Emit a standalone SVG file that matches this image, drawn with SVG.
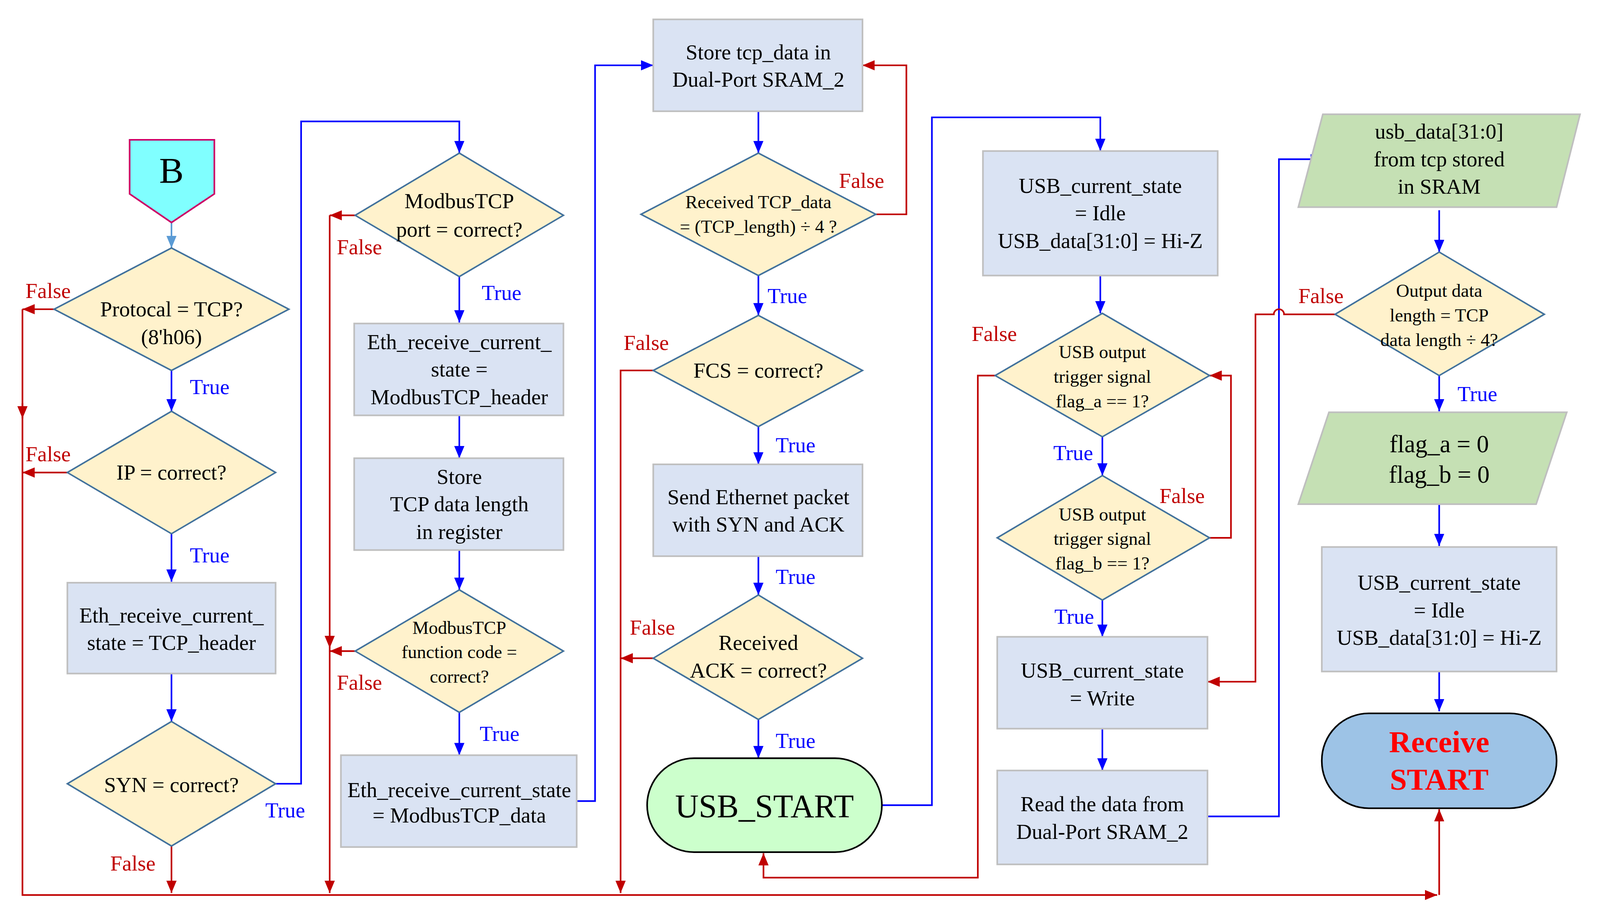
<svg xmlns="http://www.w3.org/2000/svg" width="4100" height="2330" viewBox="0 0 4100 2330">
<style>
.bx{fill:#DAE3F3;stroke:#BFBFBF;stroke-width:1.6}
.dm{fill:#FFF2CC;stroke:#41719C;stroke-width:1.5}
.pg{fill:#C5E0B4;stroke:#BFBFBF;stroke-width:1.6}
text{font-family:"Liberation Serif","Times New Roman",serif;fill:#000;text-anchor:middle}
.t{font-size:21px}
.s{font-size:18px}
.tr{fill:#0000FF;font-size:21px;text-anchor:start}
.fl{fill:#C00000;font-size:21px;text-anchor:start}
.b{fill:none;stroke:#0000FF;stroke-width:1.6}
.r{fill:none;stroke:#C00000;stroke-width:1.6}
</style>
<defs>
<marker id="ab" viewBox="0 0 12 10" refX="12" refY="5" markerWidth="12" markerHeight="10" markerUnits="userSpaceOnUse" orient="auto"><path d="M0,0 L12,5 L0,10 z" fill="#0000FF"/></marker>
<marker id="ar" viewBox="0 0 12 10" refX="12" refY="5" markerWidth="12" markerHeight="10" markerUnits="userSpaceOnUse" orient="auto"><path d="M0,0 L12,5 L0,10 z" fill="#C00000"/></marker>
<marker id="al" viewBox="0 0 12 10" refX="12" refY="5" markerWidth="12" markerHeight="10" markerUnits="userSpaceOnUse" orient="auto"><path d="M0,0 L12,5 L0,10 z" fill="#5B9BD5"/></marker>
</defs>
<rect width="4100" height="2330" fill="#fff"/>
<g transform="scale(2.613)">
<g id="connectors">
<path d="M168,218 V243" fill="none" stroke="#5B9BD5" stroke-width="1.6" marker-end="url(#al)"/>
<path class="b" d="M168,363 V403" marker-end="url(#ab)"/>
<path class="b" d="M168,523 V570" marker-end="url(#ab)"/>
<path class="b" d="M168,660 V707" marker-end="url(#ab)"/>
<path class="b" d="M270,768 H295 V119 H450 V150" marker-end="url(#ab)"/>
<path class="r" d="M168,829 V875" marker-end="url(#ar)"/>
<path class="r" d="M53,303 H22" marker-end="url(#ar)"/>
<path class="r" d="M66,463 H22" marker-end="url(#ar)"/>
<path class="r" d="M22,303 V877 H1408" marker-end="url(#ar)"/>
<path class="r" d="M22,395 V410" marker-end="url(#ar)"/>
<path class="r" d="M1410,877 V793" marker-end="url(#ar)"/>
<path class="b" d="M450,271 V316" marker-end="url(#ab)"/>
<path class="b" d="M450,407 V449" marker-end="url(#ab)"/>
<path class="b" d="M450,539 V578" marker-end="url(#ab)"/>
<path class="b" d="M450,698 V740" marker-end="url(#ab)"/>
<path class="r" d="M348,211 H323" marker-end="url(#ar)"/>
<path class="r" d="M323,211 V875" marker-end="url(#ar)"/>
<path class="r" d="M348,638 H323" marker-end="url(#ar)"/>
<path class="r" d="M323,620 V635" marker-end="url(#ar)"/>
<path class="b" d="M565,785 H583 V64 H640" marker-end="url(#ab)"/>
<path class="b" d="M743,109 V150" marker-end="url(#ab)"/>
<path class="r" d="M858,210 H888 V64 H845" marker-end="url(#ar)"/>
<path class="b" d="M743,270 V309" marker-end="url(#ab)"/>
<path class="r" d="M640,363 H608 V875" marker-end="url(#ar)"/>
<path class="b" d="M743,418 V455" marker-end="url(#ab)"/>
<path class="b" d="M743,545 V583" marker-end="url(#ab)"/>
<path class="r" d="M640,645 H608" marker-end="url(#ar)"/>
<path class="b" d="M743,705 V743" marker-end="url(#ab)"/>
<path class="b" d="M864,789 H913 V115 H1078 V148" marker-end="url(#ab)"/>
<path class="b" d="M1078,270 V307" marker-end="url(#ab)"/>
<path class="r" d="M975,368 H958 V860 H748 V836" marker-end="url(#ar)"/>
<path class="b" d="M1080,428 V466" marker-end="url(#ab)"/>
<path class="r" d="M1185,527 H1206 V368 H1185" marker-end="url(#ar)"/>
<path class="b" d="M1080,588 V624" marker-end="url(#ab)"/>
<path class="b" d="M1080,714 V755" marker-end="url(#ab)"/>
<path class="b" d="M1183,800 H1253 V156 H1296" marker-end="url(#ab)"/>
<path class="b" d="M1410,206 V247" marker-end="url(#ab)"/>
<path class="r" d="M1308,308 H1258 A5,5 0 0 0 1248,308 H1230 V668 H1183" marker-end="url(#ar)"/>
<path class="b" d="M1410,368 V403" marker-end="url(#ab)"/>
<path class="b" d="M1410,494 V535" marker-end="url(#ab)"/>
<path class="b" d="M1410,658 V697" marker-end="url(#ab)"/>
<text class="tr" x="186" y="386">True</text>
<text class="tr" x="186" y="551">True</text>
<text class="tr" x="260" y="801">True</text>
<text class="fl" x="108" y="853">False</text>
<text class="fl" x="25" y="292">False</text>
<text class="fl" x="25" y="452">False</text>
<text class="fl" x="330" y="249">False</text>
<text class="tr" x="472" y="294">True</text>
<text class="fl" x="330" y="676">False</text>
<text class="tr" x="470" y="726">True</text>
<text class="fl" x="822" y="184">False</text>
<text class="tr" x="752" y="297">True</text>
<text class="fl" x="611" y="343">False</text>
<text class="tr" x="760" y="443">True</text>
<text class="tr" x="760" y="572">True</text>
<text class="fl" x="617" y="622">False</text>
<text class="tr" x="760" y="733">True</text>
<text class="fl" x="952" y="334">False</text>
<text class="tr" x="1032" y="451">True</text>
<text class="fl" x="1136" y="493">False</text>
<text class="tr" x="1033" y="611">True</text>
<text class="fl" x="1272" y="297">False</text>
<text class="tr" x="1428" y="393">True</text>
</g>
<g id="nB"><polygon points="127,137 210,137 210,190 168,218 127,190" fill="#80FFFF" stroke="#CC0066" stroke-width="1.6"/><text x="168" y="179" style="font-size:36px">B</text></g>
<g id="n1"><polygon class="dm" points="168,243 283,303 168,363 53,303"/><text class="t" x="168" y="310">Protocal = TCP?</text><text class="t" x="168" y="337">(8'h06)</text></g>
<g id="n2"><polygon class="dm" points="168,403 270,463 168,523 66,463"/><text class="t" x="168" y="470">IP = correct?</text></g>
<g id="n3"><rect class="bx" x="66" y="571" width="204" height="89"/><text class="t" x="168" y="610">Eth_receive_current_</text><text class="t" x="168" y="637">state = TCP_header</text></g>
<g id="n4"><polygon class="dm" points="168,707 270,768 168,829 66,768"/><text class="t" x="168" y="776">SYN = correct?</text></g>
<g id="n5"><polygon class="dm" points="450,150 552,211 450,271 348,211"/><text class="t" x="450" y="204">ModbusTCP</text><text class="t" x="450" y="232">port = correct?</text></g>
<g id="n6"><rect class="bx" x="347" y="317" width="205" height="90"/><text class="t" x="450" y="342">Eth_receive_current_</text><text class="t" x="450" y="369">state =</text><text class="t" x="450" y="396">ModbusTCP_header</text></g>
<g id="n7"><rect class="bx" x="347" y="449" width="205" height="90"/><text class="t" x="450" y="474">Store</text><text class="t" x="450" y="501">TCP data length</text><text class="t" x="450" y="528">in register</text></g>
<g id="n8"><polygon class="dm" points="450,578 552,638 450,698 348,638"/><text class="s" x="450" y="621">ModbusTCP</text><text class="s" x="450" y="645">function code =</text><text class="s" x="450" y="669">correct?</text></g>
<g id="n9"><rect class="bx" x="334" y="740" width="231" height="90"/><text class="t" x="450" y="781">Eth_receive_current_state</text><text class="t" x="450" y="806">= ModbusTCP_data</text></g>
<g id="n10"><rect class="bx" x="640" y="19" width="205" height="90"/><text class="t" x="743" y="58">Store tcp_data in</text><text class="t" x="743" y="85">Dual-Port SRAM_2</text></g>
<g id="n11"><polygon class="dm" points="743,150 858,210 743,270 628,210"/><text class="s" x="743" y="204">Received TCP_data</text><text class="s" x="743" y="228">= (TCP_length) ÷ 4 ?</text></g>
<g id="n12"><polygon class="dm" points="743,309 845,363 743,418 640,363"/><text class="t" x="743" y="370">FCS = correct?</text></g>
<g id="n13"><rect class="bx" x="640" y="455" width="205" height="90"/><text class="t" x="743" y="494">Send Ethernet packet</text><text class="t" x="743" y="521">with SYN and ACK</text></g>
<g id="n14"><polygon class="dm" points="743,583 845,645 743,705 640,645"/><text class="t" x="743" y="637">Received</text><text class="t" x="743" y="664">ACK = correct?</text></g>
<g id="n15"><rect x="634" y="743" width="230" height="92" rx="46" fill="#CCFFCC" stroke="#000" stroke-width="1.6"/><text x="749" y="801" style="font-size:32px">USB_START</text></g>
<g id="n16"><rect class="bx" x="963" y="148" width="230" height="122"/><text class="t" x="1078" y="189">USB_current_state</text><text class="t" x="1078" y="216">=  Idle</text><text class="t" x="1078" y="243">USB_data[31:0] = Hi-Z</text></g>
<g id="n17"><polygon class="dm" points="1080,307 1185,368 1080,428 975,368"/><text class="s" x="1080" y="351">USB output</text><text class="s" x="1080" y="375">trigger signal</text><text class="s" x="1080" y="399">flag_a == 1?</text></g>
<g id="n18"><polygon class="dm" points="1080,466 1185,527 1080,588 977,527"/><text class="s" x="1080" y="510">USB output</text><text class="s" x="1080" y="534">trigger signal</text><text class="s" x="1080" y="558">flag_b == 1?</text></g>
<g id="n19"><rect class="bx" x="977" y="624" width="206" height="90"/><text class="t" x="1080" y="664">USB_current_state</text><text class="t" x="1080" y="691">= Write</text></g>
<g id="n20"><rect class="bx" x="977" y="755" width="206" height="92"/><text class="t" x="1080" y="795">Read the data from</text><text class="t" x="1080" y="822">Dual-Port SRAM_2</text></g>
<g id="n21"><polygon class="pg" points="1296,112 1548,112 1525,203 1272,203"/><text class="t" x="1410" y="136">usb_data[31:0]</text><text class="t" x="1410" y="163">from tcp stored</text><text class="t" x="1410" y="190">in SRAM</text></g>
<g id="n22"><polygon class="dm" points="1410,247 1513,308 1410,368 1308,308"/><text class="s" x="1410" y="291">Output data</text><text class="s" x="1410" y="315">length = TCP</text><text class="s" x="1410" y="339">data length ÷ 4?</text></g>
<g id="n23"><polygon class="pg" points="1302,404 1535,404 1505,494 1272,494"/><text x="1410" y="443" style="font-size:24px">flag_a = 0</text><text x="1410" y="473" style="font-size:24px">flag_b = 0</text></g>
<g id="n24"><rect class="bx" x="1295" y="536" width="230" height="122"/><text class="t" x="1410" y="578">USB_current_state</text><text class="t" x="1410" y="605">= Idle</text><text class="t" x="1410" y="632">USB_data[31:0] = Hi-Z</text></g>
<g id="n25"><rect x="1295" y="699" width="230" height="93" rx="46" fill="#9DC3E6" stroke="#000" stroke-width="1.6"/><text x="1410" y="737" style="font-size:30px;font-weight:bold;fill:#FF0000">Receive</text><text x="1410" y="774" style="font-size:30px;font-weight:bold;fill:#FF0000">START</text></g>
</g>
</svg>
